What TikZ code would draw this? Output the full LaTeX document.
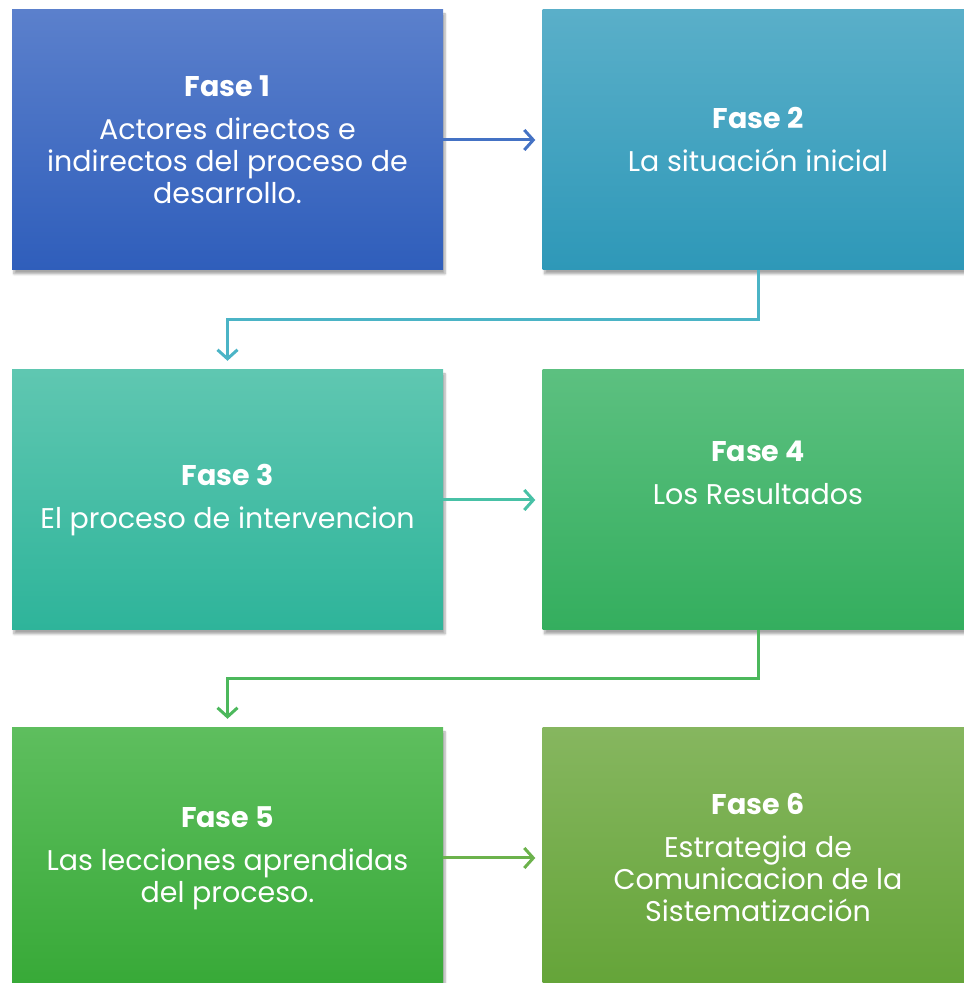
\documentclass[tikz,border=0pt]{standalone}
\usepackage{fontspec}
\setmainfont{Poppins}
\usetikzlibrary{arrows.meta,shadows.blur}
\definecolor{azul1}{HTML}{5B80CC}\definecolor{azul2}{HTML}{2F5EBB}
\definecolor{celeste1}{HTML}{5AAFC9}\definecolor{celeste2}{HTML}{2E98B8}
\definecolor{turq1}{HTML}{5FC7B1}\definecolor{turq2}{HTML}{2EB49A}
\definecolor{verde1}{HTML}{5CC080}\definecolor{verde2}{HTML}{34AE5E}
\definecolor{pasto1}{HTML}{5EBE5E}\definecolor{pasto2}{HTML}{37A937}
\definecolor{oliva1}{HTML}{86B65F}\definecolor{oliva2}{HTML}{64A438}
\definecolor{flecha1}{HTML}{4472C4}\definecolor{flecha2}{HTML}{4BB4C6}
\definecolor{flecha3}{HTML}{48C1A6}\definecolor{flecha4}{HTML}{4CB85C}
\definecolor{flecha5}{HTML}{6CB24C}
\begin{document}
\begin{tikzpicture}[x=1pt,y=1pt,
  fase node/.style={rectangle,minimum width=431pt,minimum height=260pt,align=center,
    text=white,font=\fontsize{28.5}{32}\selectfont,
    blur shadow={shadow xshift=2pt,shadow yshift=-4pt,shadow opacity=35,shadow blur steps=6}},
  flecha/.style={line width=3pt,shorten >=7pt,
    -{Straight Barb[length=9pt,width=20pt,line width=3pt]}}]
\useasboundingbox (0,0) rectangle (964,983);
%1
  \node[fase node,top color=azul1,bottom color=azul2] (f1) at (227.5,843)
    {\textbf{Fase 1}\\[11pt]Actores directos e\\indirectos del proceso de\\desarrollo.};
%2
  \node[fase node,top color=celeste1,bottom color=celeste2] (f2) at (758,843)
    {\textbf{Fase 2}\\[11pt]La situación inicial};
%3
  \node[fase node,top color=turq1,bottom color=turq2] (f3) at (227.5,483)
    {\textbf{Fase 3}\\[11pt]El proceso de intervencion};
%4
  \node[fase node,top color=verde1,bottom color=verde2] (f4) at (758,483)
    {\textbf{Fase 4}\\[11pt]Los Resultados\\[12pt]\strut};
%5
  \node[fase node,top color=pasto1,bottom color=pasto2] (f5) at (227.5,125)
    {\textbf{Fase 5}\\[11pt]Las lecciones aprendidas\\del proceso.};
%6
  \node[fase node,top color=oliva1,bottom color=oliva2] (f6) at (758,125)
    {\textbf{Fase 6}\\[11pt]Estrategia de\\Comunicacion de la\\Sistematización};
%paths
  \draw[flecha,color=flecha1] (f1) -- (f2);
  \draw[flecha,color=flecha2,shorten >=9pt] (f2.south) -- ++(0,-49) -| (f3.north);
  \draw[flecha,color=flecha3] (f3) -- (f4);
  \draw[flecha,color=flecha4,shorten >=9pt] (f4.south) -- ++(0,-48) -| (f5.north);
  \draw[flecha,color=flecha5] (f5) -- (f6);
\end{tikzpicture}
\end{document}
